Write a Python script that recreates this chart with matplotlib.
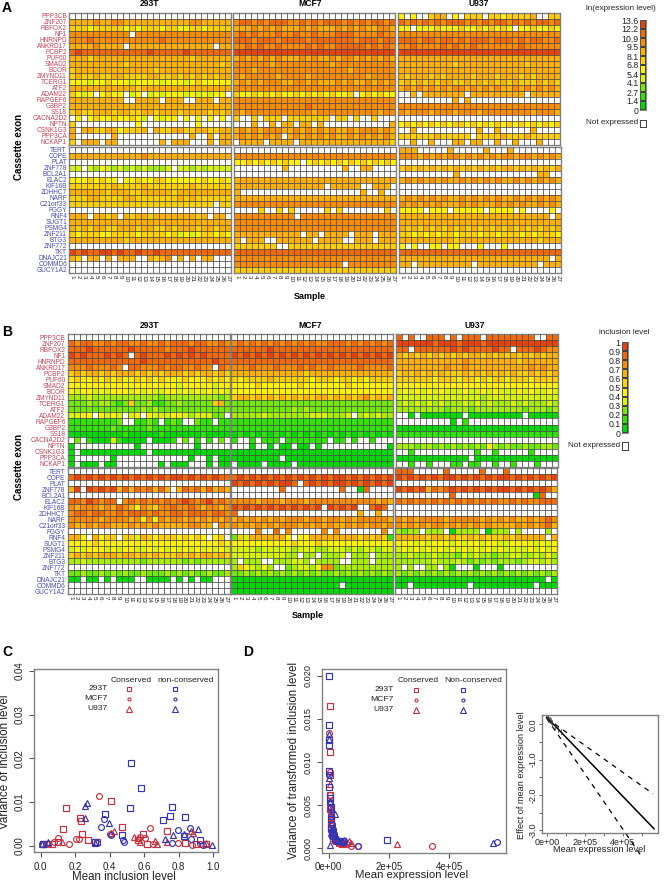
import numpy as np
import matplotlib
matplotlib.use("Agg")
import matplotlib.pyplot as plt
from matplotlib.colors import ListedColormap, BoundaryNorm

plt.rcParams['font.family'] = ['Liberation Sans', 'DejaVu Sans']

W, H = 664, 882
GENES_TOP = ["PPP3CB","ZNF207","RBFOX2","NF1","HNRNPD","ANKRD17","PCBP2","PUF60","SMAD2","BCOR","ZMYND11",
             "TCERG1","ATF2","ADAM22","RAPGEF6","G3BP2","SS18","CACNA2D2","NPTN","CSNK1G3","PPP3CA","NCKAP1"]
GENES_BOTTOM = ["TERT","COPE","PLAT","ZNF778","BCL2A1","ELAC2","KIF16B","ZDHHC7","NARF","C21orf33","FGGY","RNF4",
                "SUGT1","PSMG4","ZNF211","BTG3","ZNF772","TKT","DNAJC21","COMMD6","GUCY1A2"]
SAMPLES = [str(i) for i in range(1, 28)]
LEVEL_COLORS = ["#00DC00","#30E400","#70EA00","#A8EE00","#D8F400","#FFF200","#FFD000","#FFB000","#FA8C00","#F26A08","#E8420A"]

# Codes: 0-9,a = colour level of a cell, '.' = not expressed
A_293T_TOP = [
 "......... ......... .........","777787788 777777777 778877777","666566666 565666566 556656666",
 "888888888 8.8888888 888888888","888988888 888888988 888888888","777787777 .77777777 777777.77",
 "9a9999999 9999a9999 9a9999999","777677777 777777777 776777777","777777777 677777777 777777767",
 "677777777 777776777 777777777","676676677 666677667 676767677","555455655 545555455 545655555",
 "777777777 776777777 777777777","6545.5655 .45.45455 54545455.","777777777 ..7777.77 7..777.77",
 "777777777 777777777 777777777","676677767 766776777 677776767",".5.565565 5654.5455 .5.5.5.5.",
 "6........ ..5...... ...5.....","7.7766775 6667.7667 766776677","7......7. ......... ..7..7.77",
 "6.777.77. ......7.7 77...7.77"]
A_293T_BOTTOM = [
 "......... ......... .........","777777777 777877777 777777777","......... ......... .........",
 "44.435434 34343334. 443434444","......... ......... .........","55565655. 556556655 555565565",
 "666666676 666766666 667666666","777777677 766777776 777777777","666776666 776666666 767666666",
 "666666666 666666666 666666.66","......... ......... .........","777.7767. 767767777 77767.77.",
 "777777777 777777777 777777777","767677667 776776676 777677677","656665566 665666656 454566565",
 "777777777 677777777 777777777","......... ......... .........","a9a99aa9a 99a99a999 999999999",
 "76.77.7.7 77..7678. 7.7.77...","......... ......... .........","......... ......... ........."]
A_MCF7_TOP = [
 "......... ......... .........","899898999 889898999 898989989","777878787 778787778 787877887",
 "898988898 898898889 998888988","999899989 999899999 998999899","889898898 888989889 999989898",
 "aaaaaaaaa aaaaaaaaa aaaaaaaaa","787878787 778787787 887878787","888888788 888888878 888888888",
 "888788888 888888888 878888888","878888878 888788888 888878888","787878887 788787778 787787878",
 "888888888 888888888 888888888","655656565 565656565 .56565655".replace(".56565655","56.565655"),"888888888 888888888 888888888",
 "888888888 888988888 888888888","878888888 888878888 888888788","6..6.666. 6666666.6 6.6..6...",
 "...7..7.7 7.77.7... ........7","787878887 787878787 787888787","787878788 .87878787 787878787".replace(".87878787","787878787").replace("787878788 ","78787878. "),
 ".7777.777 7.7777777 777777776"]
A_MCF7_BOTTOM = [
 "......... ......... .........","888888888 888888888 888888888","556565656 55.565656 565656565",
 "........7 ......... 7..77....","......... ......... .........","777777777 777777777 777777777",
 "777777777 777777.77 777..777.","7........ ......... ...7..7..","777777777 777777777 777777777",
 "888888888 888888888 888888888","....6..6. 6.....6.6 .......6.","888888888 8.8888888 888888888",
 "888888888 888888888 888888888","888888888 888888888 888888888","777777777 77.77.777 7.777.777",
 "7.777..77 7777.7777 ..777.777","6666666.. 666666666 666666666","999999999 999999999 999999999",
 "888888888 888888888 888888888","888888888 888888888 .88888888","666666666 666666666 666666666"]
A_U937_TOP = [
 "5.5..677. 5.666.665 66667..66","989898989 998989899 898989989","55.555655 565565656 5.5565565",
 "888888888 888888888 888888888","999899899 898999899 989899889","889888898 988988888 889888888",
 "aaaaaaaaa aaaaaaaaa aaaaaaaaa","777777777 777777777 777777777","777777777 677777777 777677777",
 "777777777 777777777 777777777","767776767 777677767 776767777","676767677 667676767 676667676",
 "787878787 887878787 787878787","..7.77777 77.777777 777.77777","......... 7.7...... .........",
 "888888888 888888888 888888888","878887888 788878888 888878887","......... ......... .........",
 "565656565 665656565 656565656","..7...... ....7..7. ....7....","666666766 6667.6667 666766666".replace("6667.6667","666.66667"),
 "..7..7... 77.77..7. .7...7..."]
A_U937_BOTTOM = [
 "777.....7 .....7... 7.......7".replace("777.....7 .....7... 7.......7","777.....7 .....7... 7........"),"888787878 878787878 878878787","......... ......... .........",
 "676767676 767676767 767676767","........ 7......... ......77.".replace("........ 7......... ......77.",".........7 ........ ......77.").replace(".........7 ........ ",".........  7....... "),"787878787 787878787 787878787",
 "......... ......... .........","......... ......... .........","787878787 787878787 787878787",
 "878787877 787877787 878778787","5555.555. 55555.555 ..5.5555.".replace("..5.5555.","5.5....5."),"777777777 777777777 7777777.7",
 "777777777 777777777 777777777","767676767 676767676 767676767","665656566 566656656 665656665",
 "777777777 677777777 777776777","5.5..55.5 5...5...5 .........","999999999 999999999 999999999",
 "777777777 777777777 7777777.7","77.777777 777.77777 77777.777","......... ......... ........."]

B_293T_TOP = [
 "000000000 000000000 000000000","989988989 988988989 998998898","999a99999 9a9999989 99a999999",
 "a9a999a9a 9a9a999a9 a9a9a9999","999999999 999a99999 999999a99","888988898 899888989 988988898",
 "676776767 776767677 767677676","565565656 556565655 565556565","555555555 555555555 455555455",
 "545545455 545454455 454545454","333433333 333333233 333333323","222323321 262231122 322222672",
 "222222222 222323222 222222222","445545454 345454445 543444222","111111112 111121112 111211111",
 "111111121 111121111 111111111","000000000 100000100 000010000","020100041 000000001 020101020",
 "000000000 000000000 000000000","000000000 000000000 000000000","000000000 000000000 000000000",
 "000000000 000000000 000000000"]
B_293T_BOTTOM = [
 "000000000 000000000 000000000","9a9a9a9a9 a9a9a9a9a a9a9a9a99","000000000 000000000 000000000",
 "7a7a9a9a7 979897979 798979787","000000000 000000000 000000000","998a98999 898989898 9a989a898",
 "878887879 875876889 889878878","899899889 899989889 989998998","888887888 878585878 878787878",
 "877878877 787878777 778877887","000000000 000000000 000000000","775775664 664765666 565657565",
 "555565555 555555555 555555565","454555454 554454545 454545454","676767776 776767666 767677676",
 "334333333 333233333 323233333","000000000 000000000 000000000","223223232 322322232 323223223",
 "000000000 000000000 000000000","000000000 000000000 000000000","000000000 000000000 000000000"]
B_MCF7_TOP = [
 "000000000 000000000 000000000","898989898 989898899 989898989","999999a99 999999999 999999999",
 "a9a9a9a9a 9a9a9a9a9 a9a9a9a9a","999999999 999999999 999999999","888988898 889898898 888988889",
 "777777777 777677777 777777777","656666766 666656665 665656666","555565555 556555555 565555555",
 "555555555 555555555 555555555","677676767 676767767 676786767","222222222 222222222 222222222",
 "222222222 232322222 222222222","333334333 333344.33 343343433".replace(".","4"),"111111111 111111111 111111111",
 "111111111 111111111 111111111","010101010 101010101 010101010","111111111 111111111 111111111",
 "000000000 000000000 000000000","000000000 000000000 000000000","000000000 000000000 000000000",
 "000000000 000000000 000000000"]
B_MCF7_BOTTOM = [
 "000000000 000000000 000000000","9a9a9a9a9 a9a9a9a9a a9a9a9a9a","a9a9a9a9a a9a9a9a9a a9a9a9a9a",
 "888888889 000000000 900099000","000000000 000000000 000000000","888878887 888788888 888888787",
 "a9a9a9a9a 9a9a9a9a9 a9a9a9a9a","900000000 000000000 000700700","787878787 888788788 787888887",
 "878787878 887878787 787878878","000080090 800000808 000000080","264777777 565577777 777676761",
 "555555555 565556555 555555555","444434444 434443344 434344344","444444444 333333333 443333333",
 "333333333 344333333 333333333","365435377 234435882 333333333","223232323 232323223 232323232",
 "000000000 000000000 000000000","000000000 000000000 000000000","000000000 000000000 000000000"]
B_U937_TOP = [
 "909009998 999999999 999990099","aaaaaa9aa a9aaa9aaa aaaaaaaaa","999999999 a9a9999a9 99999a988",
 "767676767 676776767 676767677","777777777 778777777 776777777","777777778 778777777 777787877",
 "676767676 667676767 676676767","666666566 656656566 566656666","555555555 555555555 555555555",
 "454545454 445445454 445454454","444444444 444443444 444444444","343434343 334343433 343433343",
 "333333332 333233333 333233323","000000000 000000000 000000000","000001001 011000000 000000000",
 "000000000 000000000 000000000","111111111 111111111 111111111","000000000 000000000 000000000",
 "333233232 323232532 322322332","001000000 000010010 000010000","000000000 000000000 000000000",
 "001001000 110110010 010001000"]
B_U937_BOTTOM = [
 "999000009 000009000 900000000","a9a9a9a9a a9a9a9a9a a9a9a9a9a","000000000 000000000 000000000",
 "a9a9a7989 a9a9a9a9a a9a9a9a97","000000000 900000000 000000990","989898989 898989898 898988999",
 "000000000 000000000 000000000","000000000 000000000 000000000","878788887 888887878 787787898",
 "878787887 878787877 778787897","323303333 000000000 000000000".replace("000000000 000000000","033333033 333033033").replace("323303333","32330333 3").replace(" 3 "," 3"),"777776776 766767666 767777767",
 "555454555 454554554 455554545","454545454 545454545 444454545","334333433 324343323 344334353",
 "333333433 343232323 332344343","303003303 000300030 300000000","323232323 232323232 323232323",
 "000000000 000000000 000000000","000000000 000000000 000000000","000000000 000000000 000000000"]

A_LEGEND_LABELS = ["0","1.4","2.7","4.1","5.4","6.8","8.1","9.5","10.9","12.2","13.6"]
B_LEGEND_LABELS = ["0","0.1","0.2","0.3","0.4","0.5","0.6","0.7","0.8","0.9","1"]
LEGEND_LEVELS = [0, 1, 2, 4, 5, 6, 7, 8, 9, 10]

# Panel C
C_CONS_293T_X = [.145,.407,.228,.236,.127,.237,.276,.469,.595,.73,.614,.324,.015,.064,.10,.836,.90,.96,.566]
C_CONS_293T_Y = [.0087,.0102,.0064,.0056,.0038,.0026,.0013,.0042,.0027,.0034,.0005,.0009,.0004,.0003,.0009,.0007,.0005,.0005,.0013]
C_CONS_MCF7_X = [.336,.631,.166,.10,.205,.224,.40,.077,.575,.604,.652,.797,.875,.923]
C_CONS_MCF7_Y = [.0113,.004,.0005,.0018,.0016,.0015,.0027,.0008,.002,.0017,.0003,.0007,.0002,.0003]
C_CONS_U937_X = [.427,.405,.54,.566,.122,.025,.662,.672,.73,.87,.88,.96,.044,.575]
C_CONS_U937_Y = [.0034,.0028,.0021,.0018,.0008,.0005,.0011,.0005,.0009,.0034,.0028,.0007,.0007,.0009]
C_NON_293T_X = [.525,.583,.517,.76,.749,.836,.707,.371,.473,.315,.923,.828,.015]
C_NON_293T_Y = [.0189,.0133,.0087,.0088,.0069,.0065,.0058,.0073,.0024,.0009,.0012,.0023,.0004]
C_NON_MCF7_X = [.365,.347,.405,.483,.479,.795,.863,.869,.759,.006,.324,.942]
C_NON_MCF7_Y = [.0062,.0042,.0024,.0008,.0013,.0036,.004,.0015,.0007,.0004,.0007,.0002]
C_NON_U937_X = [.27,.257,.257,.394,.913,.83,.768,.72,.04,.99,.006,.315]
C_NON_U937_Y = [.0098,.0092,.0063,.0053,.0038,.0027,.0024,.0015,.0008,.0002,.0003,.0007]

# Panel D (x in thousands)
D_CONS_293T_X = [3,4,3,5,5,7,8,9,10,12,15,20,25,35,45,4]
D_CONS_293T_Y = [.0165,.0112,.0085,.0062,.0045,.0036,.0028,.0022,.0018,.0015,.0012,.0010,.0008,.0006,.0005,.0055]
D_CONS_MCF7_X = [2,3,3,5,7,9,12,15,18,22,30,45,60,73,96,343]
D_CONS_MCF7_Y = [.0134,.0088,.0062,.0052,.0042,.0033,.0028,.0022,.0017,.0012,.0009,.0006,.0005,.0003,.0003,.0003]
D_CONS_U937_X = [3,6,9,12,14,18,22,28,33,42,55,68,74,228]
D_CONS_U937_Y = [.0075,.0047,.0037,.0030,.0024,.0019,.0014,.0011,.0007,.0009,.0006,.0009,.0006,.0005]
D_NON_293T_X = [0,0,1,2,2,2,4,6,7,9,11,14,20,30,48,195]
D_NON_293T_Y = [.0200,.0143,.0125,.012,.009,.0071,.0058,.0048,.0034,.0024,.0019,.0014,.0011,.0008,.0008,.0010]
D_NON_MCF7_X = [1,3,7,10,13,17,24,35,50,96,558]
D_NON_MCF7_Y = [.0085,.0054,.0038,.0027,.0021,.0017,.0011,.0008,.0009,.0003,.0007]
D_NON_U937_X = [1,2,2,5,10,21,3,7,13,19,27,48,52,545]
D_NON_U937_Y = [.0132,.0127,.0082,.0054,.0045,.0040,.0004,.0018,.0025,.0016,.0010,.0007,.0010,.0006]

# Effect curve panel
E_X = [0, 5.65e5]
E_FIT = [0.2, -2.96]
E_UP_X = [0, 5.6e5]
E_UP = [0.17, -1.97]
E_LO_X = [0, 5e5]
E_LO = [0.17, -3.75]
E_RUG = [2000, 5000, 8000, 12000, 15000, 20000, 30000, 45000, 60000, 73000]

RED = "#C8303F"
BLUE = "#3434B4"
GENE_RED = "#C84458"
GENE_BLUE = "#4A4AB4"
GRAY = "#808080"

fig = plt.figure(figsize=(W/100, H/100), dpi=100)
cmap = ListedColormap(LEVEL_COLORS)
norm = BoundaryNorm(np.arange(-0.5, 11.5), cmap.N)

def pax(x0, y0, x1, y1):
    return fig.add_axes([x0/W, 1-y1/H, (x1-x0)/W, (y1-y0)/H])

def ftext(x, y, s, **kw):
    kw.setdefault('ha', 'center'); kw.setdefault('va', 'center')
    fig.text(x/W, 1-y/H, s, **kw)

def decode(rows, mask_rows=None):
    rows = [r.replace(" ", "").ljust(27, ".")[:27] for r in rows]
    m = np.array([[np.nan if c == "." else int(c, 16) for c in r] for r in rows], float)
    if mask_rows is not None:
        mm = np.array([[c == "." for c in r.replace(" ", "").ljust(27, ".")[:27]] for r in mask_rows])
        m[mm] = np.nan
    return np.ma.masked_invalid(m)

def heat(box, rows, masks=None, ylabels=None, color=None, xlabels=False):
    ax = pax(*box)
    m = decode(rows, masks)
    ax.pcolormesh(np.arange(28), np.arange(m.shape[0]+1), m, cmap=cmap, norm=norm, edgecolors='none', zorder=1)
    ax.set_xlim(0, 27); ax.set_ylim(m.shape[0], 0)
    ax.set_xticks(np.arange(1, 27), minor=True); ax.set_yticks(np.arange(1, m.shape[0]), minor=True)
    ax.grid(which='minor', color='#4a4a4a', lw=0.55, zorder=2)
    ax.set_axisbelow(False)
    ax.tick_params(which='minor', length=0)
    ax.set_xticks(np.arange(27)+.5)
    if xlabels:
        ax.set_xticklabels(SAMPLES, rotation=270, fontsize=4.5, color='#222222', ha='center', va='top')
        ax.tick_params(axis='x', which='major', length=0, pad=1.5)
    else:
        ax.set_xticklabels([]); ax.tick_params(axis='x', which='major', length=0)
    ax.set_yticks(np.arange(m.shape[0])+.5)
    if ylabels:
        ax.set_yticklabels(ylabels, fontsize=4.7, color=color)
        ax.tick_params(axis='y', which='major', length=0, pad=1.5)
    else:
        ax.set_yticklabels([]); ax.tick_params(axis='y', which='major', length=0)
    for s in ax.spines.values():
        s.set_color(GRAY); s.set_linewidth(1.0)
    return ax

# Heatmap A
heat((69,12.5,231,144.5), A_293T_TOP, ylabels=GENES_TOP, color=GENE_RED)
heat((233,12.5,395,144.5), A_MCF7_TOP)
heat((398,12.5,560,144.5), A_U937_TOP)
heat((69,146.7,231,272.7), A_293T_BOTTOM, ylabels=GENES_BOTTOM, color=GENE_BLUE, xlabels=True)
heat((234,146.7,396,272.7), A_MCF7_BOTTOM, xlabels=True)
heat((399,146.7,561,272.7), A_U937_BOTTOM, xlabels=True)
# Heatmap B
heat((67.5,334.5,229.5,466.5), B_293T_TOP, A_293T_TOP, ylabels=GENES_TOP, color=GENE_RED)
heat((231.3,334.5,393.3,466.5), B_MCF7_TOP, A_MCF7_TOP)
heat((395.7,334.5,557.7,466.5), B_U937_TOP, A_U937_TOP)
heat((67.5,468,229.5,594), B_293T_BOTTOM, A_293T_BOTTOM, ylabels=GENES_BOTTOM, color=GENE_BLUE, xlabels=True)
heat((231,468,393,594), B_MCF7_BOTTOM, A_MCF7_BOTTOM, xlabels=True)
heat((395,468,557,594), B_U937_BOTTOM, A_U937_BOTTOM, xlabels=True)

for x, t in [(150,"293T"),(310,"MCF7"),(479,"U937")]:
    ftext(x, 3.5, t, fontsize=6.2, fontweight='bold')
for x, t in [(150,"293T"),(310,"MCF7"),(475,"U937")]:
    ftext(x, 325.5, t, fontsize=6.2, fontweight='bold')
ftext(19, 147, "Cassette exon", rotation=90, fontsize=7, fontweight='bold')
ftext(19, 467, "Cassette exon", rotation=90, fontsize=7, fontweight='bold')
ftext(310, 296, "Sample", fontsize=6.5, fontweight='bold')
ftext(308, 616, "Sample", fontsize=6.5, fontweight='bold')
for x, y, t in [(7,8,"A"),(7,332,"B"),(7,652,"C"),(248,652,"D")]:
    ftext(x, y, t, fontsize=10, fontweight='bold')

def legend_bar(box, labels, title, tx, ty, notx, noty, sq):
    ax = pax(*box)
    ax.pcolormesh([0, 1], np.arange(11), np.array(LEGEND_LEVELS)[:, None], cmap=cmap, norm=norm,
                  edgecolors='#404040', linewidth=0.35)
    ax.set_xticks([]); ax.set_yticks(np.arange(11)); ax.set_yticklabels(labels, fontsize=6.3, color='#222222')
    ax.tick_params(axis='y', length=0, pad=1)
    ax.set_xlim(0, 1); ax.set_ylim(0, 10)
    for s in ax.spines.values():
        s.set_color('#606060'); s.set_linewidth(0.5)
    ftext(tx, ty, title, fontsize=5.9, color='#222222')
    ftext(notx, noty, "Not expressed", fontsize=5.9, ha='right', color='#222222')
    q = pax(*sq); q.set_xticks([]); q.set_yticks([])
    for s in q.spines.values():
        s.set_color('#404040'); s.set_linewidth(0.7)

legend_bar((640,20,646,110), A_LEGEND_LABELS, "ln(expression level)", 621, 9, 638.5, 123, (640,119.5,646,126.5))
legend_bar((622,342,628,433), B_LEGEND_LABELS, "inclusion level", 624, 332, 620.5, 445.5, (622,441.5,628,449.5))

def style_scatter(ax, ylabel_fs, tick_fs):
    for s in ax.spines.values():
        s.set_color(GRAY); s.set_linewidth(1.0)
    ax.tick_params(axis='both', color='#555555', width=0.8, length=3.5, labelcolor='#222222', labelsize=tick_fs)
    for t in ax.get_yticklabels():
        t.set_rotation(90); t.set_va('center')

def scatter_set(ax, series, msize):
    for x, y, c, m, f in series:
        ax.plot(np.asarray(x)*f, y, ls='none', marker=m, mfc='none', mec=c, mew=0.85, ms=msize[m])

MS = {'s': 4.6, 'o': 4.2, '^': 4.8}

def legend_keys(ax, box, rows_y, xa, xb, names_x, head_a, head_b, head_y, text_b):
    x0, y0, x1, y1 = box
    for yy, name, mk, ms in zip(rows_y, ["293T","MCF7","U937"], ['s','o','^'], [3.4, 2.2, 3.8]):
        ay = 1-(yy-y0)/(y1-y0)
        ax.plot([(xa-x0)/(x1-x0)], [ay], marker=mk, mfc='none', mec=RED, mew=0.8, ms=ms, transform=ax.transAxes, ls='none')
        ax.plot([(xb-x0)/(x1-x0)], [ay], marker=mk, mfc='none', mec=BLUE, mew=0.8, ms=ms, transform=ax.transAxes, ls='none')
        ftext(names_x, yy, name, fontsize=6.1, ha='right', color='#222222')
    ftext(head_a, head_y, "Conserved", fontsize=6.1, color='#222222')
    ftext(head_b, head_y, text_b, fontsize=6.1, color='#222222')

# Panel C
box_c = (34, 668.7, 218, 852)
axc = pax(*box_c)
scatter_set(axc, [(C_CONS_293T_X,C_CONS_293T_Y,RED,'s',1),(C_CONS_MCF7_X,C_CONS_MCF7_Y,RED,'o',1),
                  (C_CONS_U937_X,C_CONS_U937_Y,RED,'^',1),(C_NON_293T_X,C_NON_293T_Y,BLUE,'s',1),
                  (C_NON_MCF7_X,C_NON_MCF7_Y,BLUE,'o',1),(C_NON_U937_X,C_NON_U937_Y,BLUE,'^',1)], MS)
sx = 172.6; sy = (845.7-671)/0.04
axc.set_xlim((34-40.7)/sx, (218-40.7)/sx); axc.set_ylim((845.7-852)/sy, (845.7-668.7)/sy)
axc.set_xticks([0,.2,.4,.6,.8,1.0]); axc.set_xticklabels(["0.0","0.2","0.4","0.6","0.8","1.0"])
axc.set_yticks([0,.01,.02,.03,.04]); axc.set_yticklabels(["0.00","0.01","0.02","0.03","0.04"])
style_scatter(axc, 8.4, 7)
legend_keys(axc, box_c, [689,699,709], 128.7, 175.3, 107.7, 130.7, 186, 680, "non-conserved")
ftext(124, 877, "Mean inclusion level", fontsize=8.3, color='#222222')
ftext(5, 762, "Variance of inclusion level", rotation=90, fontsize=8.4, color='#222222')

# Panel D
box_d = (322, 669, 506, 852.7)
axd = pax(*box_d)
scatter_set(axd, [(D_CONS_293T_X,D_CONS_293T_Y,RED,'s',1e3),(D_CONS_MCF7_X,D_CONS_MCF7_Y,RED,'o',1e3),
                  (D_CONS_U937_X,D_CONS_U937_Y,RED,'^',1e3),(D_NON_293T_X,D_NON_293T_Y,BLUE,'s',1e3),
                  (D_NON_MCF7_X,D_NON_MCF7_Y,BLUE,'o',1e3),(D_NON_U937_X,D_NON_U937_Y,BLUE,'^',1e3)], MS)
sx = 60.3/2e5; sy = (848.3-675.7)/0.02
axd.set_xlim((322-328.7)/sx, (506-328.7)/sx); axd.set_ylim((848.3-852.7)/sy, (848.3-669)/sy)
axd.set_xticks([0,2e5,4e5]); axd.set_xticklabels(["0e+00","2e+05","4e+05"])
axd.set_yticks([0,.005,.01,.015,.02]); axd.set_yticklabels(["0.000","0.005","0.010","0.015","0.020"])
style_scatter(axd, 8.3, 7)
for t in axd.get_yticklabels():
    t.set_fontsize(6.6)
legend_keys(axd, box_d, [689.7,699.7,709.7], 416.3, 463, 394, 417.7, 473, 680, "Non-conserved")
ftext(411.7, 875, "Mean expression level", fontsize=8.2, color='#222222')
ftext(294, 760, "Variance of transformed inclusion level", rotation=90, fontsize=8.3, color='#222222')

# Effect panel
axe = pax(542.3, 715, 658.3, 833)
axe.plot(E_X, E_FIT, color='black', lw=1.1, clip_on=False)
axe.plot(E_UP_X, E_UP, color='black', lw=0.9, ls=(0, (4, 4)), clip_on=False)
axe.plot(E_LO_X, E_LO, color='black', lw=0.9, ls=(0, (4, 4)), clip_on=False)
for xr, yr in zip(E_RUG, np.interp(E_RUG, E_X, E_FIT)):
    axe.plot([xr, xr], [yr-0.08, yr+0.08], color='#333333', lw=0.5)
sx = 19/1e5; sy = 35.3
axe.set_xlim((542.3-546.7)/sx, (658.3-546.7)/sx); axe.set_ylim((724.3-833)/sy, (724.3-715)/sy)
axe.set_xticks([0,2e5,4e5]); axe.set_xticklabels(["0e+00","2e+05","4e+05"])
axe.set_xticks([1e5,3e5,5e5], minor=True)
axe.set_yticks([0,-1,-2,-3]); axe.set_yticklabels(["0.0","-1.0","-2.0","-3.0"])
axe.set_yticks([-.5,-1.5,-2.5], minor=True)
style_scatter(axe, 6.5, 6.5)
axe.tick_params(which='both', length=2, width=0.7, color='#666666', pad=1.5)
ftext(599, 850, "Mean expression level", fontsize=6.7, color='#222222')
ftext(521.7, 775, "Effect of mean expression level", rotation=90, fontsize=6.6, color='#222222')

fig.savefig("out.png", dpi=100)
